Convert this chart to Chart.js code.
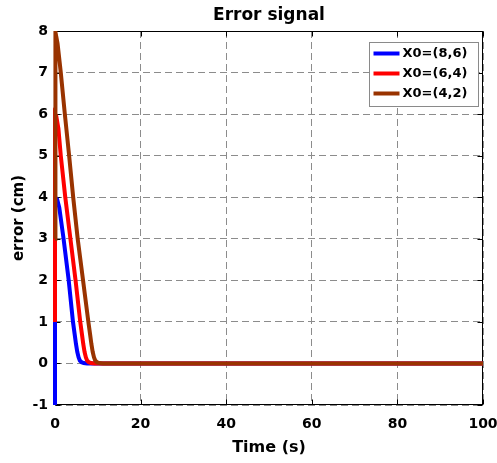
<!DOCTYPE html>
<html>
<head>
<meta charset="utf-8">
<script src="https://cdn.jsdelivr.net/npm/chart.js@4.4.1/dist/chart.umd.min.js"></script>
<style>
  html, body { margin: 0; padding: 0; background: #fff; }
</style>
</head>
<body>
<canvas id="chart-error" width="497" height="463"></canvas>
<script>
/* ── Data ───────────────────────────────────────────────── */
const seriesLabels = ['X0=(8,6)', 'X0=(6,4)', 'X0=(4,2)'];
const seriesColors = ['#0000FF', '#FF0000', '#993300'];

const blueT  = [0, 0, 0.5, 1.0, 2.0, 3.2, 4.2, 4.6, 4.9, 5.2, 5.5, 5.8, 6.2, 6.7, 7.5, 100];
const blueE  = [-1, 4, 3.95, 3.75, 3.0, 2.0, 1.0, 0.7, 0.47, 0.28, 0.15, 0.07, 0.03, 0.01, 0, 0];

const redT   = [0, 0, 0.3, 0.8, 1.35, 2.4, 3.6, 4.8, 5.9, 6.3, 6.6, 6.9, 7.2, 7.5, 7.9, 8.4, 9.2, 100];
const redE   = [1, 6, 5.95, 5.65, 5.0, 4.0, 3.0, 2.0, 1.0, 0.7, 0.47, 0.28, 0.15, 0.07, 0.03, 0.01, 0, 0];

const brownT = [0, 0, 0.2, 0.6, 1.35, 2.3, 3.3, 4.25, 5.3, 6.55, 7.8, 8.2, 8.5, 8.8, 9.1, 9.4, 9.8, 10.3, 11.2, 100];
const brownE = [3, 8, 7.97, 7.7, 7.0, 6.0, 5.0, 4.0, 3.0, 2.0, 1.0, 0.7, 0.47, 0.28, 0.15, 0.07, 0.03, 0.01, 0, 0];

const xTicks = [0, 20, 40, 60, 80, 100];
const yTicks = [-1, 0, 1, 2, 3, 4, 5, 6, 7, 8];

const FONT = '"DejaVu Sans", sans-serif';

function points(ts, es) {
  return ts.map((t, i) => ({ x: t, y: es[i] }));
}

/* ── Frame, inward ticks, title and legend (MATLAB look) ── */
const matlabFrame = {
  id: 'matlabFrame',
  beforeDatasetsDraw(chart) {
    const { ctx, chartArea: a, scales: { x, y } } = chart;
    ctx.save();
    ctx.setLineDash([]);
    ctx.strokeStyle = '#000';
    ctx.lineWidth = 1;
    const L = Math.round(a.left) + 0.5, R = Math.round(a.right) - 0.5;
    const T = Math.round(a.top) + 0.5, B = Math.round(a.bottom) - 0.5;
    ctx.strokeRect(L, T, R - L, B - T);
    ctx.beginPath();
    xTicks.forEach(v => {
      const px = Math.round(x.getPixelForValue(v)) + 0.5;
      ctx.moveTo(px, B); ctx.lineTo(px, B - 5);
      ctx.moveTo(px, T); ctx.lineTo(px, T + 5);
    });
    yTicks.forEach(v => {
      const py = Math.round(y.getPixelForValue(v)) + 0.5;
      ctx.moveTo(L, py); ctx.lineTo(L + 5, py);
      ctx.moveTo(R, py); ctx.lineTo(R - 5, py);
    });
    ctx.stroke();
    ctx.restore();
  },
  afterDraw(chart) {
    const { ctx, chartArea: a } = chart;
    ctx.save();
    // title
    ctx.fillStyle = '#000';
    ctx.font = 'bold 17px ' + FONT;
    ctx.textAlign = 'center';
    ctx.textBaseline = 'middle';
    ctx.fillText('Error signal', (a.left + a.right) / 2, 16);

    // legend box
    const bw = 109, bh = 64;
    const bx = Math.round(a.right) - 5 - bw + 0.5, by = Math.round(a.top) + 11 + 0.5;
    ctx.fillStyle = '#fff';
    ctx.fillRect(bx, by, bw, bh);
    ctx.strokeStyle = '#8a8a8a';
    ctx.lineWidth = 1;
    ctx.strokeRect(bx, by, bw, bh);
    ctx.font = 'bold 13px ' + FONT;
    ctx.textAlign = 'left';
    seriesLabels.forEach((lbl, i) => {
      const ly = by + 11 + i * 20;
      ctx.strokeStyle = seriesColors[i];
      ctx.lineWidth = 4;
      ctx.beginPath();
      ctx.moveTo(bx + 4, ly);
      ctx.lineTo(bx + 30, ly);
      ctx.stroke();
      ctx.fillStyle = '#000';
      ctx.fillText(lbl, bx + 33, ly + 0.5);
    });
    ctx.restore();
  }
};

/* ── Chart ──────────────────────────────────────────────── */
const series = [
  { t: blueT,  e: blueE,  order: 3 },
  { t: redT,   e: redE,   order: 2 },
  { t: brownT, e: brownE, order: 1 }
];

new Chart(document.getElementById('chart-error'), {
  type: 'line',
  data: {
    datasets: series.map((s, i) => ({
      label: seriesLabels[i],
      data: points(s.t, s.e),
      borderColor: seriesColors[i],
      backgroundColor: seriesColors[i],
      borderWidth: 4,
      pointRadius: 0,
      tension: 0,
      fill: false,
      clip: false,
      order: s.order
    }))
  },
  options: {
    responsive: false,
    animation: false,
    devicePixelRatio: 1,
    layout: { padding: { top: 31, right: 14, left: 0, bottom: 0 } },
    plugins: {
      legend: { display: false },
      title: { display: false },
      tooltip: { enabled: false }
    },
    scales: {
      x: {
        type: 'linear', min: 0, max: 100,
        afterFit: s => { s.height = 58; s.paddingLeft = 0; s.paddingRight = 0; },
        afterBuildTicks: s => { s.ticks = xTicks.map(v => ({ value: v })); },
        ticks: { color: '#000', padding: 11, maxRotation: 0, font: { family: FONT, size: 14, weight: 'bold' } },
        grid: { color: '#8c8c8c', lineWidth: 1, drawTicks: false },
        border: { display: false, dash: [7, 4] },
        title: { display: true, text: 'Time (s)', color: '#000', padding: { top: 0, bottom: 6 },
                 font: { family: FONT, size: 16, weight: 'bold' } }
      },
      y: {
        type: 'linear', min: -1, max: 8,
        afterFit: s => { s.width = 55; s.paddingTop = 0; s.paddingBottom = 0; },
        afterBuildTicks: s => { s.ticks = yTicks.map(v => ({ value: v })); },
        ticks: { color: '#000', padding: 7, font: { family: FONT, size: 14, weight: 'bold' } },
        grid: { color: '#8c8c8c', lineWidth: 1, drawTicks: false },
        border: { display: false, dash: [7, 4] },
        title: { display: true, text: 'error (cm)', color: '#000', padding: { top: 10, bottom: 0 },
                 font: { family: FONT, size: 15, weight: 'bold' } }
      }
    }
  },
  plugins: [matlabFrame]
});
</script>
</body>
</html>
